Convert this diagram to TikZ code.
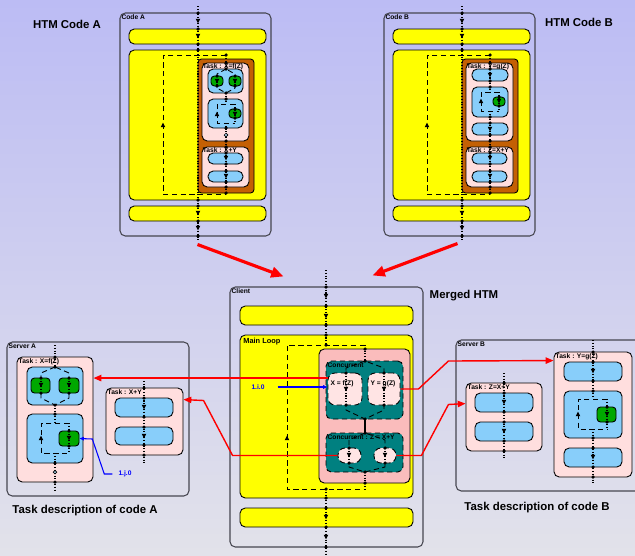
\documentclass[tikz,border=0pt]{standalone}
\usepackage{fontspec}
\setmainfont{Liberation Sans}
\usetikzlibrary{arrows.meta,fit,calc}

\definecolor{bgtop}{RGB}{188,188,244}
\definecolor{bgbot}{RGB}{226,226,234}
\definecolor{htmyellow}{RGB}{255,255,0}
\definecolor{htmbrown}{RGB}{196,96,4}
\definecolor{taskpink}{RGB}{255,222,222}
\definecolor{bodypink}{RGB}{250,188,188}
\definecolor{htmblue}{RGB}{136,206,250}
\definecolor{htmgreen}{RGB}{0,168,0}
\definecolor{htmteal}{RGB}{0,128,128}
\definecolor{branchpink}{RGB}{255,228,228}
\definecolor{outline}{RGB}{70,70,80}

\begin{document}
\begin{tikzpicture}[x=0.02cm, y=-0.02cm,
	outer/.style={draw=outline, line width=0.6pt, rounded corners=3pt, inner sep=0pt},
	bar/.style={draw=black, line width=0.5pt, fill=htmyellow, rounded corners=3pt, inner sep=0pt},
	bodybox/.style={draw=black, line width=0.5pt, fill=htmbrown, rounded corners=2pt, inner sep=0pt},
	loopbody/.style={draw=black, line width=0.5pt, fill=bodypink, rounded corners=3pt, inner sep=0pt},
	task/.style={draw=black, line width=0.5pt, fill=taskpink, rounded corners=3pt, inner sep=0pt},
	blk/.style={draw=black, line width=0.5pt, fill=htmblue, rounded corners=3pt, inner sep=0pt},
	leaf/.style={draw=black, line width=0.5pt, fill=htmgreen, rounded corners=2pt, inner sep=0pt},
	conc/.style={draw=black, line width=0.5pt, densely dashed, fill=htmteal, rounded corners=3pt, inner sep=0pt},
	branch/.style={draw=black, line width=0.5pt, densely dashed, fill=branchpink, rounded corners=4pt, inner sep=0pt},
	loopln/.style={densely dashed, line width=0.5pt},
	flow/.style={densely dotted, line width=0.6pt},
	link/.style={draw=red, line width=0.8pt, -{Triangle[length=4.5pt,width=3.6pt]}},
	note/.style={draw=blue, line width=0.6pt, -{Triangle[length=2.5pt,width=2pt]}},
	merge/.style={draw=red, line width=1.8pt, -{Triangle[length=7pt,width=6pt]}},
	lbl/.style={font=\bfseries\fontsize{3.8}{4}\selectfont, anchor=north west, inner sep=1pt},
	heading/.style={font=\bfseries\fontsize{6.5}{7}\selectfont, inner sep=0pt},
	knot/.pic={\fill (0,0) circle (1pt);},
	hollow/.pic={\filldraw[fill=htmblue!60, line width=0.4pt] (0,0) circle (1pt);},
	dn/.pic={\fill (-1.3pt,1.2pt) -- (1.3pt,1.2pt) -- (0,-1.4pt) -- cycle;},
	upw/.pic={\fill (-1.3pt,-1.2pt) -- (1.3pt,-1.2pt) -- (0,1.4pt) -- cycle;},
]
	\useasboundingbox (0,0) rectangle (635,555);
	\shade[top color=bgtop, bottom color=bgbot] (0,0) rectangle (635,555);
	\clip (0,0) rectangle (635,555);

	% headings
	\node[heading] (titleA) at (67,24) {HTM Code A};
	\node[heading] (titleB) at (579,22) {HTM Code B};
	\node[heading] (titleM) at (464,296) {Merged HTM};
	\node[heading] (descA) at (85,511) {Task description of code A};
	\node[heading] (descB) at (537,508) {Task description of code B};

	% the two codes
	\foreach \c/\dx/\ta/\tb in {A/0/{X=f(Z)}/{X+Y}, B/264/{Y=g(Z)}/{Z=X+Y}}{
		\node[outer, fit={({\dx+120},13) ({\dx+271},236)}] (code\c) {};
		\node[lbl] (code\c-lbl) at (code\c.north west) {Code \c};
		\node[bar, fit={({\dx+129},29) ({\dx+266},44)}] (top\c) {};
		\node[bar, fit={({\dx+129},50) ({\dx+266},200)}] (main\c) {};
		\node[bar, fit={({\dx+129},206) ({\dx+266},221)}] (bot\c) {};
		\draw[loopln] ({\dx+226},55) -- ({\dx+163},55) -- ({\dx+163},194) -- ({\dx+226},194);
		\pic at ({\dx+163},125) {upw};
		\node[bodybox, fit={({\dx+198},59) ({\dx+254},193)}] (body\c) {};
		\node[task, fit={({\dx+202},63) ({\dx+249},141)}] (first\c) {};
		\node[lbl, inner sep=0.5pt] (first\c-lbl) at (first\c.north west) {Task : \ta};
		\node[task, fit={({\dx+202},147) ({\dx+249},187)}] (second\c) {};
		\node[lbl, inner sep=0.5pt] (second\c-lbl) at (second\c.north west) {Task : \tb};
		\node[blk, fit={({\dx+208},153) ({\dx+243},164)}] (second\c-1) {};
		\node[blk, fit={({\dx+208},171) ({\dx+243},182)}] (second\c-2) {};
		\draw[flow] ({\dx+198},6) -- ({\dx+198},242);
		\foreach \y in {13,29,44,50,200,206,221,236} \pic at ({\dx+198},\y) {knot};
		\foreach \y in {21,36,213,228} \pic at ({\dx+198},\y) {dn};
		\draw[flow] ({\dx+226},141) -- ({\dx+226},194);
		\foreach \y in {55,63,141,147,153,164,171,182,187,193} \pic at ({\dx+226},\y) {knot};
		\foreach \y in {158,176} \pic at ({\dx+226},\y) {dn};
	}

	% code A, task X=f(Z)
	\node[blk, fit={(208,69) (243,93)}] (firstA-1) {};
	\draw[loopln] (226,69) -- (217,74) -- (217,88) -- (226,93) -- (235,88) -- (235,74) -- cycle;
	\node[leaf, fit={(211,76) (223,86)}] (firstA-1a) {};
	\node[leaf, fit={(229,76) (241,86)}] (firstA-1b) {};
	\node[blk, fit={(208,99) (243,128)}] (firstA-2) {};
	\draw[loopln] (235,104) -- (217,104) -- (217,123) -- (235,123);
	\node[leaf, fit={(229,109) (241,118)}] (firstA-2a) {};
	\pic at (217,114) {upw};
	\draw[flow] (226,55) -- (226,69) (226,93) -- (226,104) (226,123) -- (226,141)
		(217,76) -- (217,86) (235,76) -- (235,86) (235,104) -- (235,123);
	\foreach \p in {(226,69),(226,93),(226,99),(226,128),(217,76),(217,86),(235,76),(235,86),(235,109),(235,118)}
		\pic at \p {knot};
	\pic at (226,135) {hollow};
	\foreach \p in {(217,81),(235,81),(235,114)} \pic at \p {dn};

	% code B, task Y=g(Z)
	\node[blk, fit={(472,69) (508,81)}] (firstB-1) {};
	\node[blk, fit={(472,87) (508,117)}] (firstB-2) {};
	\node[blk, fit={(472,123) (508,135)}] (firstB-3) {};
	\draw[loopln] (499,92) -- (481,92) -- (481,111) -- (499,111);
	\node[leaf, fit={(493,97) (505,106)}] (firstB-2a) {};
	\pic at (481,101) {upw};
	\draw[flow] (490,55) -- (490,92) (490,111) -- (490,141) (499,92) -- (499,111);
	\foreach \y in {69,81,87,117,123,135} \pic at (490,\y) {knot};
	\foreach \p in {(499,97),(499,106)} \pic at \p {knot};
	\foreach \p in {(490,75),(490,129),(499,101)} \pic at \p {dn};

	% merged client
	\node[outer, fit={(230,287) (423,547)}] (client) {};
	\node[lbl] (client-lbl) at (client.north west) {Client};
	\node[bar, fit={(240,306) (413,325)}] (topC) {};
	\node[bar, fit={(240,335) (413,498)}] (mainC) {};
	\node[lbl, inner sep=2pt, font=\bfseries\fontsize{4.2}{5}\selectfont] (mainC-lbl) at (mainC.north west) {Main Loop};
	\node[bar, fit={(240,508) (413,527)}] (botC) {};
	\draw[loopln] (365,345) -- (287,345) -- (287,489) -- (365,489);
	\pic at (287,438) {upw};
	\node[loopbody, fit={(319,349) (410,483)}] (bodyC) {};
	\node[conc, fit={(326,361) (403,419)}] (concA) {};
	\node[lbl] (concA-lbl) at (concA.north west) {Concurrent};
	\draw[loopln] (365,361) -- (346,368) -- (346,410) -- (365,419) -- (384,410) -- (384,368) -- cycle;
	\node[branch, fit={(328,373) (362,405)}] (brX) {};
	\node[branch, fit={(368,373) (400,405)}] (brY) {};
	\node[lbl] (brX-lbl) at ($(brX.north west)+(1,6)$) {X = f(Z)};
	\node[lbl] (brY-lbl) at ($(brY.north west)+(1,6)$) {Y = g(Z)};
	\node[conc, fit={(326,433) (403,472)}] (concB) {};
	\node[lbl] (concB-lbl) at (concB.north west) {Concurrent : Z = X+Y};
	\draw[loopln] (365,433) -- (349,440) -- (349,467) -- (365,472) -- (385,467) -- (385,440) -- cycle;
	\node[branch, fit={(338,448) (361,463)}] (brZ1) {};
	\node[branch, fit={(374,448) (396,463)}] (brZ2) {};
	\draw[flow] (326,270) -- (326,345) (326,489) -- (326,555);
	\foreach \y in {287,306,325,335,345,489,498,508,527,547} \pic at (326,\y) {knot};
	\foreach \y in {296,316,517,537} \pic at (326,\y) {dn};
	\draw[flow] (365,345) -- (365,361) (365,472) -- (365,489)
		(346,373) -- (346,405) (384,373) -- (384,405) (349,448) -- (349,463) (385,448) -- (385,463);
	\draw[line width=0.6pt] (365,419) -- (365,433);
	\foreach \y in {349,361,419,433,472,483} \pic at (365,\y) {knot};
	\foreach \p in {(346,373),(346,405),(384,373),(384,405),(349,448),(349,463),(385,448),(385,463)}
		\pic at \p {knot};
	\foreach \p in {(346,389),(384,389),(349,455),(385,455)} \pic at \p {dn};
	\node[font=\bfseries\fontsize{3.8}{4}\selectfont, text=blue] (ia) at (258,387) {1.i.0};
	\draw[note] ($(ia.east)+(7,0)$) -- (ia -| brX.west);

	% server A
	\node[outer, fit={(7,342) (189,496)}] (serverA) {};
	\node[lbl] (serverA-lbl) at (serverA.north west) {Server A};
	\node[task, fit={(17,357) (93,482)}] (taskA1) {};
	\node[lbl] (taskA1-lbl) at (taskA1.north west) {Task : X=f(Z)};
	\node[blk, fit={(27,367) (83,405)}] (taskA1-1) {};
	\draw[loopln] (55,367) -- (41,373) -- (41,398) -- (55,405) -- (69,398) -- (69,373) -- cycle;
	\node[leaf, fit={(31,378) (50,393)}] (taskA1-1a) {};
	\node[leaf, fit={(59,378) (79,393)}] (taskA1-1b) {};
	\node[blk, fit={(27,414) (83,463)}] (taskA1-2) {};
	\draw[loopln] (69,423) -- (41,423) -- (41,453) -- (69,453);
	\node[leaf, fit={(59,431) (79,446)}] (taskA1-2a) {};
	\pic at (41,438) {upw};
	\draw[flow] (55,345) -- (55,367) (55,405) -- (55,423) (55,453) -- (55,490)
		(41,378) -- (41,393) (69,378) -- (69,393) (69,423) -- (69,453);
	\foreach \y in {357,367,405,414,463,482} \pic at (55,\y) {knot};
	\pic at (55,472) {hollow};
	\foreach \p in {(41,378),(41,393),(69,378),(69,393),(69,431),(69,446)} \pic at \p {knot};
	\foreach \p in {(41,385),(69,385),(69,438)} \pic at \p {dn};
	\node[task, fit={(106,388) (183,455)}] (taskA2) {};
	\node[lbl] (taskA2-lbl) at (taskA2.north west) {Task : X+Y};
	\node[blk, fit={(115,398) (173,417)}] (taskA2-1) {};
	\node[blk, fit={(115,427) (173,445)}] (taskA2-2) {};
	\draw[flow] (144,378) -- (144,465);
	\foreach \y in {388,398,417,427,445,455} \pic at (144,\y) {knot};
	\foreach \y in {407,436} \pic at (144,\y) {dn};
	\node[font=\bfseries\fontsize{3.8}{4}\selectfont, text=blue] (jb) at (125,474) {1.j.0};
	\draw[note] (jb.west) -- ++(-8,0) -- ++(-12,-35) -- (taskA1-2a.east);

	% server B
	\node[outer, fit={(456,340) (645,491)}] (serverB) {};
	\node[lbl] (serverB-lbl) at (serverB.north west) {Server B};
	\node[task, fit={(554,352) (632,477)}] (taskB1) {};
	\node[lbl] (taskB1-lbl) at (taskB1.north west) {Task : Y=g(Z)};
	\node[blk, fit={(564,362) (622,381)}] (taskB1-1) {};
	\node[blk, fit={(564,391) (622,438)}] (taskB1-2) {};
	\node[blk, fit={(564,448) (622,467)}] (taskB1-3) {};
	\draw[loopln] (607,399) -- (578,399) -- (578,429) -- (607,429);
	\node[leaf, fit={(597,407) (616,422)}] (taskB1-2a) {};
	\pic at (578,414) {upw};
	\draw[flow] (593,340) -- (593,399) (593,429) -- (593,485) (607,399) -- (607,429);
	\foreach \y in {352,362,381,391,438,448,467,477} \pic at (593,\y) {knot};
	\foreach \p in {(607,407),(607,422)} \pic at \p {knot};
	\foreach \p in {(593,371),(593,457),(607,414)} \pic at \p {dn};
	\node[task, fit={(466,383) (542,451)}] (taskB2) {};
	\node[lbl] (taskB2-lbl) at (taskB2.north west) {Task : Z=X+Y};
	\node[blk, fit={(475,393) (533,412)}] (taskB2-1) {};
	\node[blk, fit={(475,422) (533,441)}] (taskB2-2) {};
	\draw[flow] (504,373) -- (504,460);
	\foreach \y in {383,393,412,422,441,451} \pic at (504,\y) {knot};
	\foreach \y in {402,431} \pic at (504,\y) {dn};

	% links from the merged code to the tasks
	\coordinate (xin) at ($(brX.north west)+(0,5.5)$);
	\draw[link] (xin) -- (xin -| taskA1.east);
	\draw[link] (brZ1.west) -- ++(-105,0) -- ++(-29,-55) -- ($(taskA2.north east)+(0,12)$);
	\draw[link] (brY.east) -- ++(18,0) -- ++(30,-28) -- ($(taskB1.north west)+(0,9)$);
	\draw[link] (brZ2.east) -- ++(25,0) -- ++(27,-51) -- ($(taskB2.north west)+(0,21)$);
	\draw[merge] ($(codeA.south)+(2,8)$) -- ($(client.north)+(-43,-10)$);
	\draw[merge] ($(codeB.south)+(-2,7)$) -- ($(client.north)+(46,-11)$);
\end{tikzpicture}
\end{document}
